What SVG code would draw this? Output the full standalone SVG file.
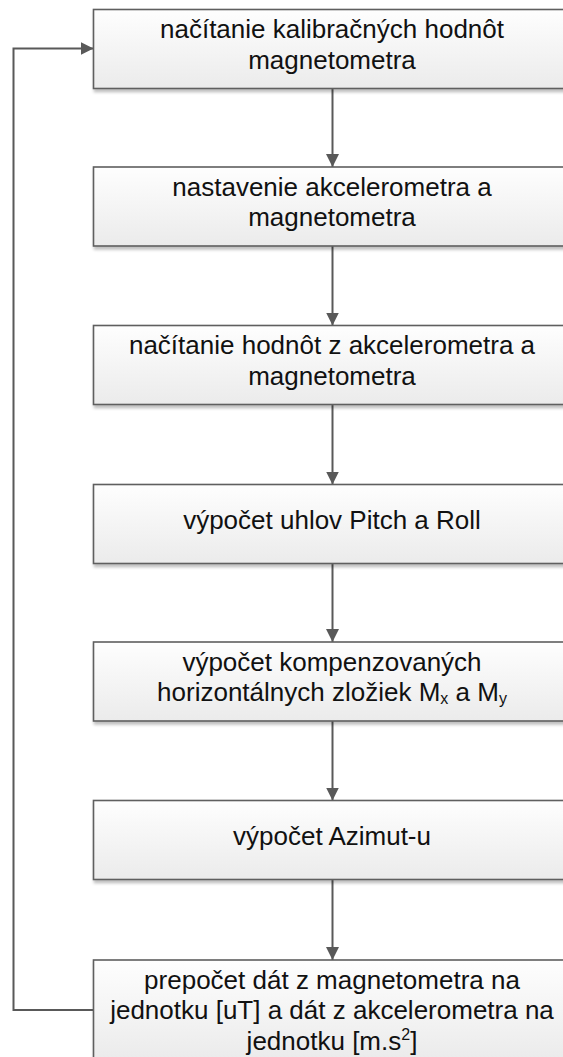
<svg xmlns="http://www.w3.org/2000/svg" width="563" height="1057" viewBox="0 0 563 1057">
<defs>
<linearGradient id="g" x1="0" y1="0" x2="0" y2="1">
<stop offset="0" stop-color="#fefefe"/>
<stop offset="1" stop-color="#ebebeb"/>
</linearGradient>
<filter id="sh" x="-5%" y="-5%" width="110%" height="120%">
<feGaussianBlur in="SourceAlpha" stdDeviation="1.5"/>
<feOffset dx="1" dy="3"/>
<feComponentTransfer><feFuncA type="linear" slope="0.25"/></feComponentTransfer>
<feMerge><feMergeNode/><feMergeNode in="SourceGraphic"/></feMerge>
</filter>
<marker id="ah" viewBox="0 0 10 10" refX="10" refY="5" markerWidth="6.5" markerHeight="6.5" markerUnits="strokeWidth" orient="auto">
<path d="M0,0 L10,5 L0,10 Z" fill="#595959"/>
</marker>
</defs>
<style>
.box{fill:url(#g);stroke:#5e5e5e;stroke-width:1.6;filter:url(#sh)}
.t{font-family:"Liberation Sans",Arial,sans-serif;font-size:26px;fill:#111;text-anchor:middle}
.c{fill:none;stroke:#595959;stroke-width:2;marker-end:url(#ah)}
.s{font-size:16px}
</style>
<g id="connectors">
<line class="c" x1="332.5" y1="88.5" x2="332.5" y2="167"/>
<line class="c" x1="332.5" y1="246" x2="332.5" y2="325.5"/>
<line class="c" x1="332.5" y1="404.5" x2="332.5" y2="484.5"/>
<line class="c" x1="332.5" y1="563.5" x2="332.5" y2="642"/>
<line class="c" x1="332.5" y1="721" x2="332.5" y2="800.5"/>
<line class="c" x1="332.5" y1="879.5" x2="332.5" y2="960"/>
<path class="c" d="M93.5,1010 H13.5 V48.5 H93.5"/>
</g>
<g id="n1">
<rect class="box" x="93.5" y="9.5" width="480" height="79"/>
<text class="t" x="332" y="38">načítanie kalibračných hodnôt</text>
<text class="t" x="332" y="68.5">magnetometra</text>
</g>
<g id="n2">
<rect class="box" x="93.5" y="167" width="480" height="79"/>
<text class="t" x="332" y="195.5">nastavenie akcelerometra a</text>
<text class="t" x="332" y="226">magnetometra</text>
</g>
<g id="n3">
<rect class="box" x="93.5" y="325.5" width="480" height="79"/>
<text class="t" x="332" y="354">načítanie hodnôt z akcelerometra a</text>
<text class="t" x="332" y="384.5">magnetometra</text>
</g>
<g id="n4">
<rect class="box" x="93.5" y="484.5" width="480" height="79"/>
<text class="t" x="332" y="528.5">výpočet uhlov Pitch a Roll</text>
</g>
<g id="n5">
<rect class="box" x="93.5" y="642" width="480" height="79"/>
<text class="t" x="332" y="670.5">výpočet kompenzovaných</text>
<text class="t" x="332" y="701">horizontálnych zložiek M<tspan class="s" dy="3">x</tspan><tspan dy="-3"> a M</tspan><tspan class="s" dy="3">y</tspan></text>
</g>
<g id="n6">
<rect class="box" x="93.5" y="800.5" width="480" height="79"/>
<text class="t" x="332" y="845">výpočet Azimut-u</text>
</g>
<g id="n7">
<rect class="box" x="93.5" y="960" width="480" height="100"/>
<text class="t" x="332" y="988.5">prepočet dát z magnetometra na</text>
<text class="t" x="332" y="1019">jednotku [uT] a dát z akcelerometra na</text>
<text class="t" x="332" y="1049.5">jednotku [m.s<tspan class="s" dy="-10">2</tspan><tspan dy="10">]</tspan></text>
</g>
</svg>
